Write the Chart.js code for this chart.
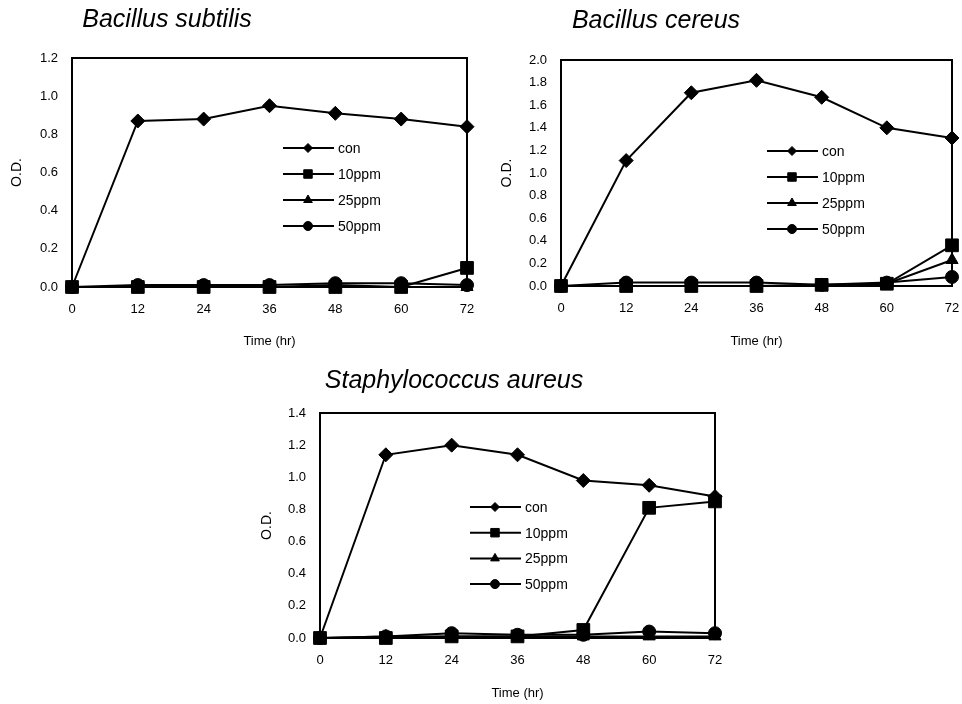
<!DOCTYPE html>
<html>
<head>
<meta charset="utf-8">
<script src="https://cdn.jsdelivr.net/npm/chart.js@4.4.1/dist/chart.umd.min.js"></script>
<style>
  html, body { margin: 0; padding: 0; background: #fff; }
  body { width: 962px; height: 704px; position: relative; overflow: hidden; }
  canvas { position: absolute; }
</style>
</head>
<body>
<canvas id="subtilis" width="490" height="352" style="left:0;top:0"></canvas>
<canvas id="cereus" width="472" height="352" style="left:490px;top:0"></canvas>
<canvas id="aureus" width="480" height="344" style="left:250px;top:360px"></canvas>
<script>
const hours = [0, 12, 24, 36, 48, 60, 72];
const seriesNames = ["con", "10ppm", "25ppm", "50ppm"];

// Bacillus subtilis
const subtilisCon = [0, 0.87, 0.88, 0.95, 0.91, 0.88, 0.84];
const subtilis10 = [0, 0, 0, 0, 0, 0, 0.10];
const subtilis25 = [0, 0, 0, 0, 0.01, 0, 0];
const subtilis50 = [0, 0.01, 0.01, 0.01, 0.02, 0.02, 0.01];

// Bacillus cereus
const cereusCon = [0, 1.11, 1.71, 1.82, 1.67, 1.40, 1.31];
const cereus10 = [0, 0, 0, 0, 0.01, 0.02, 0.36];
const cereus25 = [0, 0, 0, 0, 0, 0.02, 0.23];
const cereus50 = [0, 0.03, 0.03, 0.03, 0.01, 0.03, 0.08];

// Staphylococcus aureus
const aureusCon = [0, 1.14, 1.20, 1.14, 0.98, 0.95, 0.88];
const aureus10 = [0, 0, 0.01, 0.01, 0.05, 0.81, 0.85];
const aureus25 = [0, 0.01, 0.01, 0.01, 0.01, 0.01, 0.01];
const aureus50 = [0, 0.01, 0.03, 0.02, 0.02, 0.04, 0.03];

const FONT = "'Liberation Sans', Arial, Helvetica, sans-serif";
const styles = ["rectRot", "rect", "triangle", "circle"];
const plotRadius = [7, 9, 7, 6.5];
const legendRadius = [4.5, 6, 5, 4.5];

function makeChart(id, title, yMax, series, area, titlePos, legendPos) {
  const canvas = document.getElementById(id);
  const W = canvas.width, H = canvas.height;

  const datasets = series.map((vals, i) => ({
    label: seriesNames[i],
    data: hours.map((h, j) => ({ x: h, y: vals[j] })),
    borderColor: "#000",
    backgroundColor: "#000",
    borderWidth: 2,
    pointStyle: styles[i],
    pointRadius: plotRadius[i],
    pointBorderWidth: 1,
    pointBackgroundColor: "#000",
    pointBorderColor: "#000",
    tension: 0,
    clip: false
  }));

  const decor = {
    id: "decor",
    beforeDatasetsDraw(chart) {
      const a = chart.chartArea, ctx = chart.ctx;
      ctx.save();
      ctx.strokeStyle = "#000";
      ctx.lineWidth = 2;
      ctx.strokeRect(a.left, a.top, a.right - a.left, a.bottom - a.top);
      ctx.restore();
    },
    afterDraw(chart) {
      const ctx = chart.ctx;
      ctx.save();
      ctx.fillStyle = "#000";
      ctx.font = "italic 25px " + FONT;
      ctx.textAlign = "center";
      ctx.textBaseline = "middle";
      ctx.fillText(title, titlePos.x, titlePos.y);

      chart.data.datasets.forEach((ds, i) => {
        const y = legendPos.y + i * legendPos.gap;
        ctx.strokeStyle = "#000";
        ctx.lineWidth = 2;
        ctx.beginPath();
        ctx.moveTo(legendPos.x, y);
        ctx.lineTo(legendPos.x + 51, y);
        ctx.stroke();
        ctx.fillStyle = "#000";
        ctx.lineWidth = 1;
        Chart.helpers.drawPoint(ctx, { pointStyle: ds.pointStyle, radius: legendRadius[i], borderWidth: 1, rotation: 0 }, legendPos.x + 25, y);
        ctx.font = "14px " + FONT;
        ctx.textAlign = "left";
        ctx.textBaseline = "middle";
        ctx.fillText(ds.label, legendPos.x + 55, y + 1);
      });
      ctx.restore();
    }
  };

  return new Chart(canvas, {
    type: "line",
    data: { datasets },
    plugins: [decor],
    options: {
      responsive: false,
      animation: false,
      layout: { padding: { top: area.top, right: W - area.right, left: 0, bottom: 0 } },
      plugins: { legend: { display: false }, tooltip: { enabled: false } },
      scales: {
        x: {
          type: "linear",
          min: 0,
          max: 72,
          ticks: { stepSize: 12, color: "#000", font: { family: FONT, size: 13 }, padding: 15, maxRotation: 0 },
          grid: { display: false, drawTicks: false },
          border: { display: false },
          title: { display: true, text: "Time (hr)", color: "#000", font: { family: FONT, size: 13 }, padding: { top: 0, bottom: 3 } },
          afterFit: s => {
            s.height = H - area.bottom;
            s.paddingLeft = 0; s.paddingRight = 0;
          }
        },
        y: {
          min: 0,
          max: yMax,
          ticks: { stepSize: 0.2, color: "#000", font: { family: FONT, size: 13 }, padding: 14, callback: v => v.toFixed(1) },
          grid: { display: false, drawTicks: false },
          border: { display: false },
          title: { display: true, text: "O.D.", color: "#000", font: { family: FONT, size: 14 }, padding: { top: 9, bottom: 0 } },
          afterFit: s => {
            s.width = area.left;
            s.paddingTop = 0; s.paddingBottom = 0;
          }
        }
      }
    }
  });
}

makeChart("subtilis", "Bacillus subtilis", 1.2,
  [subtilisCon, subtilis10, subtilis25, subtilis50],
  { left: 72, right: 467, top: 58, bottom: 287 },
  { x: 167, y: 20 },
  { x: 283, y: 148, gap: 26 });

makeChart("cereus", "Bacillus cereus", 2.0,
  [cereusCon, cereus10, cereus25, cereus50],
  { left: 71, right: 465, top: 60, bottom: 286 },
  { x: 166, y: 21 },
  { x: 277, y: 151, gap: 26 });

makeChart("aureus", "Staphylococcus aureus", 1.4,
  [aureusCon, aureus10, aureus25, aureus50],
  { left: 70, right: 465, top: 53, bottom: 278 },
  { x: 204, y: 21 },
  { x: 220, y: 147, gap: 25.7 });
</script>
</body>
</html>
